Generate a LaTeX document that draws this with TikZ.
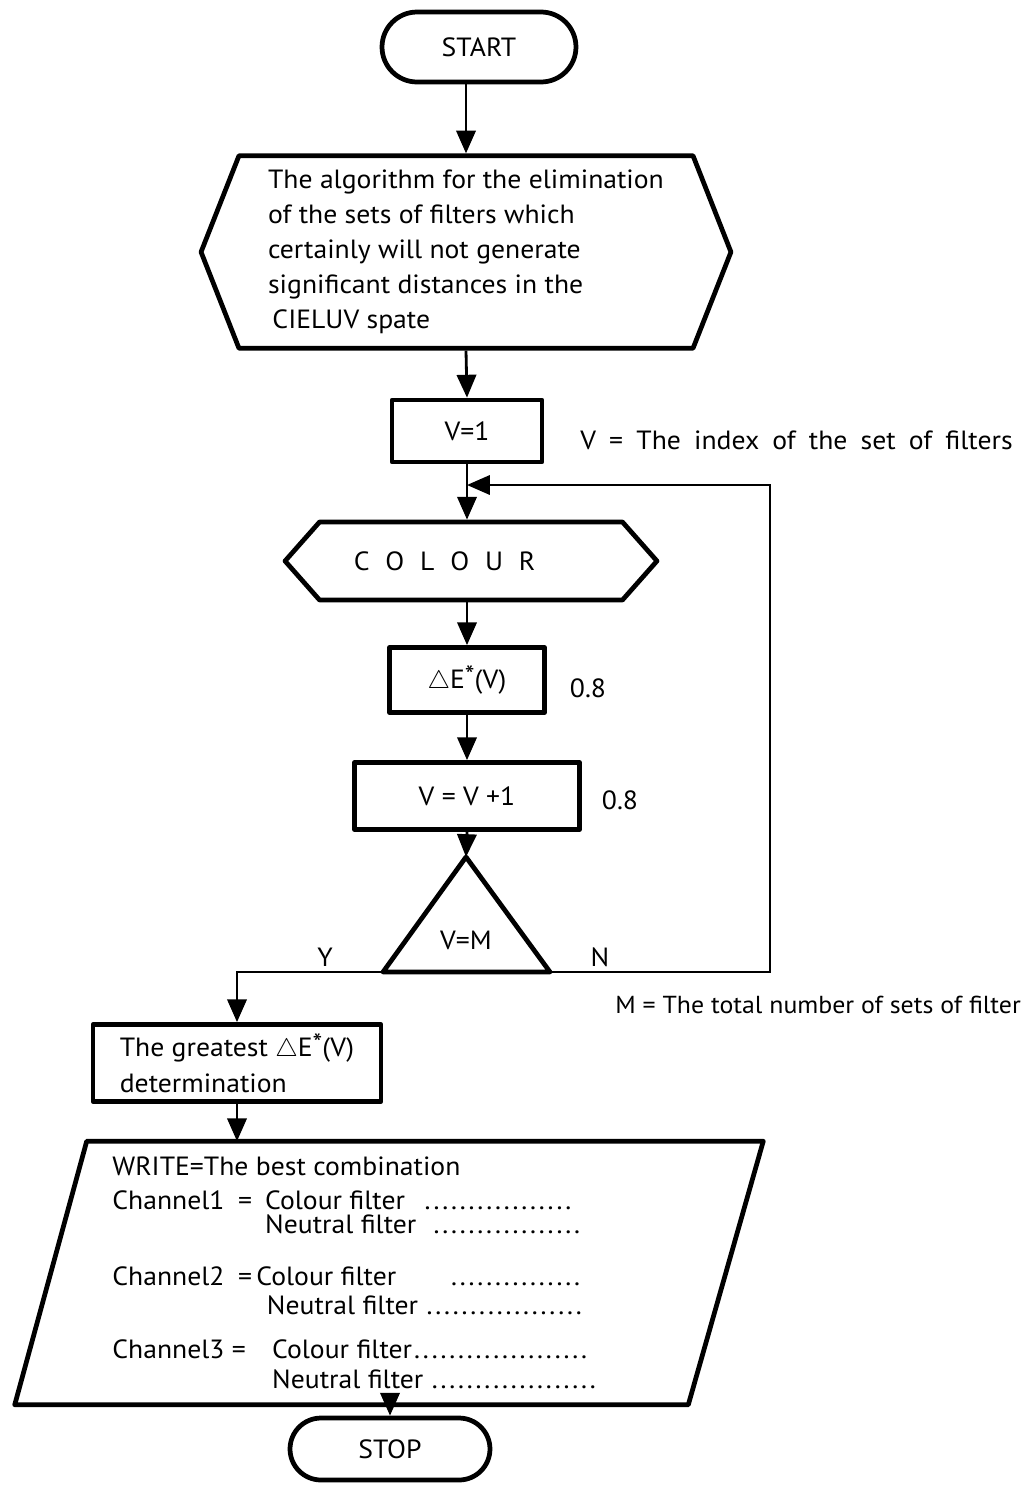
\documentclass[tikz,border=0pt]{standalone}
\usepackage{fontspec}
\setmainfont[FakeStretch=1.05]{PT Sans}
\usetikzlibrary{shapes.symbols, shapes.geometric, arrows.meta, positioning, calc}

% dotted fill-in line of a fixed width
\newcommand{\dotrow}[2]{\hbox to #1{#2\leaders\hbox to 5pt{\hss.\hss}\hfill}}
\newcommand{\widewords}{\spaceskip=7.5pt\relax}
\newcommand{\tightlines}{\lineskiplimit=-20pt\relax}

\begin{document}
\begin{tikzpicture}[
    x=0.02cm, y=-0.02cm,
    >={Triangle[length=13pt, width=11pt]},
    % Core styles
    outline/.style={draw=black, line width=2.7pt, line join=round},
    box/.style={
        outline, fill=white, align=center, inner sep=2pt,
        font=\fontsize{15}{20}\selectfont
    },
    terminal/.style={box, rounded corners=#1},
    hexbox/.style={
        box, signal, signal to=west and east, signal pointer angle=#1
    },
    flow/.style={->, line width=1.6pt},
    note/.style={font=\fontsize{15}{20}\selectfont, inner sep=0pt}
]

% === PAGE ===
\path[use as bounding box, fill=white] (0,0) rectangle (1030,1488);

% === MAIN COLUMN ===
\node[terminal=0.7cm, minimum width=3.88cm, minimum height=1.4cm] (start) at (479,47) {START};

\node[hexbox=137, minimum width=10.6cm, minimum height=3.85cm, align=left] (algo) at (466,252) {
    The algorithm for the elimination\\
    of the sets of filters which\\
    certainly will not generate\\
    significant distances in the\\
    \,CIELUV spate};

\node[box, minimum width=3.0cm, minimum height=1.24cm] (vone) at (467,431) {V=1};
\node[note, anchor=west] (vnote) at (580,440)
    {\widewords V = The index of the set of filters};

\coordinate (join) at (467,485);

\node[hexbox=97, minimum width=7.44cm, minimum height=1.56cm] (colour) at (471,561)
    {C\hspace{9pt}O\hspace{9pt}L\hspace{9pt}O\hspace{9pt}U\hspace{9pt}R\hspace*{30pt}};

\node[box, minimum width=3.1cm, minimum height=1.3cm] (delta) at (467,680) {$\triangle$E\raisebox{2.5pt}{*}(V)};
\node[note] (wdelta) at (588,688) {0.8};

\node[box, minimum width=4.5cm, minimum height=1.34cm] (incr) at (467,796) {V = V +1};
\node[note] (wincr) at (620,800) {0.8};

% === DECISION ===
\coordinate (apex) at (466,857);
\coordinate (yes) at (383,972);
\coordinate (no) at (550,972);
\draw[outline, fill=white] (apex) -- (no) -- (yes) -- cycle;
\node[note] (test) at (466,940) {V=M};
\node[note] (ylab) at (325,957) {Y};
\node[note] (nlab) at (600,957) {N};

\coordinate (ybend) at (237,972);
\coordinate (nbend) at (770,972);
\node[note, anchor=west, font=\fontsize{14}{18}\selectfont] (mnote) at (615,1005)
    {M = The total number of sets of filter};

% === RESULT ===
\node[box, minimum width=5.76cm, minimum height=1.54cm, align=left] (great) at (237,1063)
    {The greatest $\triangle$E\raisebox{2.5pt}{*}(V)\\ determination};

% output parallelogram
\node[minimum width=14.96cm, minimum height=5.26cm] (write) at (389,1273) {};
\draw[outline] ($(write.north west)+(72,0)$) -- (write.north east)
    -- ($(write.south east)+(-75,0)$) -- (write.south west) -- cycle;
\node[note, anchor=north west, align=left,
      font=\fontsize{15}{13.6}\selectfont\tightlines] (result) at (112,1156) {%
    WRITE=The best combination\\[6.3pt]
    \makebox[87pt][l]{Channel1\hfill=\enspace}\dotrow{179pt}{Colour filter\enspace}\\
    \hspace*{87pt}\dotrow{180pt}{Neutral filter\enspace}\\[15.9pt]
    \makebox[82pt][l]{Channel2\hfill=\,}\dotrow{188pt}{Colour filter\qquad}\\[2.8pt]
    \hspace*{88pt}\dotrow{184pt}{Neutral filter}\\[11.4pt]
    \makebox[91pt][l]{Channel3\hfill=\quad}\dotrow{183pt}{Colour filter}\\[3.4pt]
    \hspace*{91pt}\dotrow{186pt}{Neutral filter}};

\node[terminal=0.62cm, minimum width=4cm, minimum height=1.24cm] (stop) at (390,1449) {STOP};

% === CONNECTORS ===
\draw[flow] (start.south -| algo.north) -- (algo.north);
\draw[flow] (algo.south) -- (vone.north);
\draw[flow] (vone.south) -- (colour.north -| vone.south);
\draw[flow] (colour.south -| delta.north) -- (delta.north);
\draw[flow] (delta.south) -- (incr.north);
\draw[flow] (incr.south) -- (apex);
\draw[flow, line width=1.3pt] (no) -- (nbend) |- (join);
\draw[flow] (yes) -- (ybend) -- (great.north);
\draw[flow] (great.south) -- (great.south |- write.north);
\draw[flow] (write.south -| stop.north) -- (stop.north);

\end{tikzpicture}
\end{document}
